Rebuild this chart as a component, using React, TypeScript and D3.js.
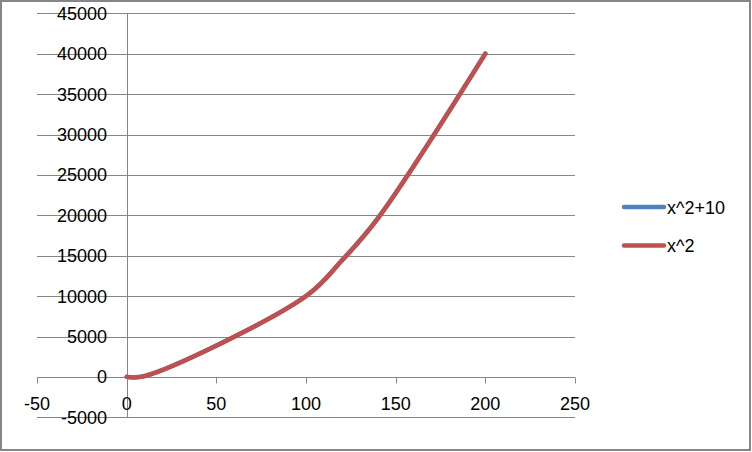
import React from "react";
import * as d3 from "d3";

const xValues = [0, 10, 100, 120, 140, 200];
const seriesA = [10, 110, 10010, 14410, 19610, 40010]; // x^2+10
const seriesB = [0, 100, 10000, 14400, 19600, 40000]; // x^2
const seriesNames = ["x^2+10", "x^2"];
const seriesColors = ["#4F81BD", "#C0504D"];
const xTicks = [-50, 0, 50, 100, 150, 200, 250];
const yTicks = [-5000, 0, 5000, 10000, 15000, 20000, 25000, 30000, 35000, 40000, 45000];

const W = 752;
const H = 452;

export default function App() {
  const x = d3.scaleLinear().domain([-50, 250]).range([37, 575]);
  const y = d3.scaleLinear().domain([-5000, 45000]).range([417.3, 13.3]);
  const grid = "#868686";
  const font = "'Liberation Sans', Arial, sans-serif";
  const line = d3
    .line<[number, number]>()
    .x((d) => x(d[0]))
    .y((d) => y(d[1]))
    .curve(d3.curveCatmullRom.alpha(0.5));
  const series = [seriesA, seriesB];
  return (
    <svg
      width={W}
      height={H}
      style={{ position: "absolute", left: 0, top: 0, background: "#fff" }}
    >
      <rect x={1} y={1} width={749} height={449} fill="#fff" stroke={grid} strokeWidth={2} />
      {yTicks.map((t) => (
        <line key={"g" + t} x1={x(-50)} x2={x(250)} y1={Math.round(y(t)) + 0.5} y2={Math.round(y(t)) + 0.5} stroke={grid} strokeWidth={1} />
      ))}
      <line x1={Math.round(x(0)) + 0.5} x2={Math.round(x(0)) + 0.5} y1={y(45000)} y2={y(-5000)} stroke={grid} strokeWidth={1} />
      {xTicks.map((t) => (
        <line key={"t" + t} x1={Math.round(x(t)) + 0.5} x2={Math.round(x(t)) + 0.5} y1={Math.round(y(0)) + 0.5} y2={Math.round(y(0)) + 6.5} stroke={grid} strokeWidth={1} />
      ))}
      {yTicks.map((t) => (
        <text key={"yl" + t} x={107} y={y(t) + 6.5} textAnchor="end" fontFamily={font} fontSize={18} fill="#000">
          {t}
        </text>
      ))}
      {xTicks.map((t) => (
        <text key={"xl" + t} x={x(t)} y={410} textAnchor="middle" fontFamily={font} fontSize={18} fill="#000">
          {t}
        </text>
      ))}
      {series.map((s, i) => (
        <path
          key={"s" + i}
          d={line(xValues.map((v, j) => [v, s[j]] as [number, number])) || ""}
          fill="none"
          stroke={seriesColors[i]}
          strokeWidth={4.5}
          strokeLinecap="round"
          strokeLinejoin="round"
        />
      ))}
      {seriesNames.map((n, i) => (
        <g key={"lg" + i} transform={`translate(0, ${207 + i * 38.5})`}>
          <line x1={624} x2={664} y1={0} y2={0} stroke={seriesColors[i]} strokeWidth={4.5} strokeLinecap="round" />
          <text x={667} y={6.5} fontFamily={font} fontSize={18} fill="#000">
            {n}
          </text>
        </g>
      ))}
    </svg>
  );
}
